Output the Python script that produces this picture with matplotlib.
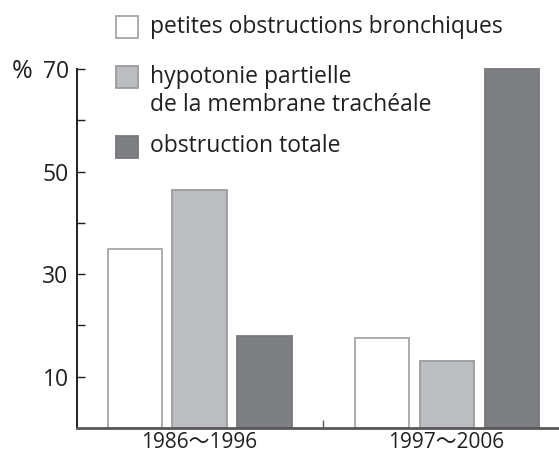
import numpy as np
import matplotlib.pyplot as plt
from matplotlib.patches import Rectangle

# ================= DATA ================= #
periods = ["1986〜1996", "1997〜2006"]
series_names = [
    "petites obstructions bronchiques",
    "hypotonie partielle\nde la membrane trachéale",
    "obstruction totale",
]
small_obstr = [35, 17.5]
partial_hypo = [46.5, 13]
total_obstr = [18, 70]
yticks_major = [10, 30, 50, 70]
yticks_minor = [20, 40, 60]

values = [small_obstr, partial_hypo, total_obstr]
fills = ["#ffffff", "#bcbdc1", "#7e7f83"]
edges = ["#a6a6a8", "#9a9b9e", "#76777b"]
ink = "#231f20"

plt.rcParams["font.family"] = ["Open Sans", "Noto Sans CJK JP", "DejaVu Sans"]

W, H = 559, 457
fig = plt.figure(figsize=(W / 100, H / 100), dpi=100)
ax = fig.add_axes([77 / W, (H - 428) / H, (W - 77) / W, (428 - 69) / H])

# ================= BARS ================= #
x = np.arange(len(periods))
w = 0.219
step = 0.263
for i, vals in enumerate(values):
    ax.bar(x + (i - 1) * step, vals, w, color=fills[i], edgecolor=edges[i],
           linewidth=1.3, clip_on=False, zorder=2)

ax.set_xlim(-0.496, 1.455)
ax.set_ylim(0, 70)

# ---- axes styling ----
for s in ["top", "right"]:
    ax.spines[s].set_visible(False)
ax.spines["left"].set_linewidth(1.4)
ax.spines["left"].set_color(ink)
ax.spines["bottom"].set_linewidth(2.0)
ax.spines["bottom"].set_color("#58585a")
ax.spines["bottom"].set_zorder(3)

ax.set_yticks(yticks_major)
ax.set_yticks(yticks_minor, minor=True)
ax.tick_params(axis="y", which="both", direction="in", length=6, width=1.0,
               color=ink, labelsize=16.5, labelcolor=ink, pad=6)

ax.set_xticks(x)
ax.set_xticklabels(periods)
ax.set_xticks([0.5], minor=True)
ax.tick_params(axis="x", which="major", length=0, labelsize=15,
               labelcolor=ink, pad=3)
ax.tick_params(axis="x", which="minor", direction="in", length=6, width=1.0,
               color="#58585a")

fig.text(12 / W, 1 - 78 / H, "%", fontsize=18, color=ink, va="baseline")

# ================= LEGEND ================= #
leg_y = [16, 66, 136]
text_base = [33, 83, 152]
for i, name in enumerate(series_names):
    fig.patches.append(Rectangle((116 / W, 1 - (leg_y[i] + 22) / H), 22 / W, 22 / H,
                                 transform=fig.transFigure, facecolor=fills[i],
                                 edgecolor=edges[i], linewidth=1.3))
    lines = name.split("\n")
    for j, line in enumerate(lines):
        fig.text(150 / W, 1 - (text_base[i] + 28 * j) / H, line, fontsize=16.5,
                 color=ink, va="baseline")

plt.savefig("out.png", dpi=100)
